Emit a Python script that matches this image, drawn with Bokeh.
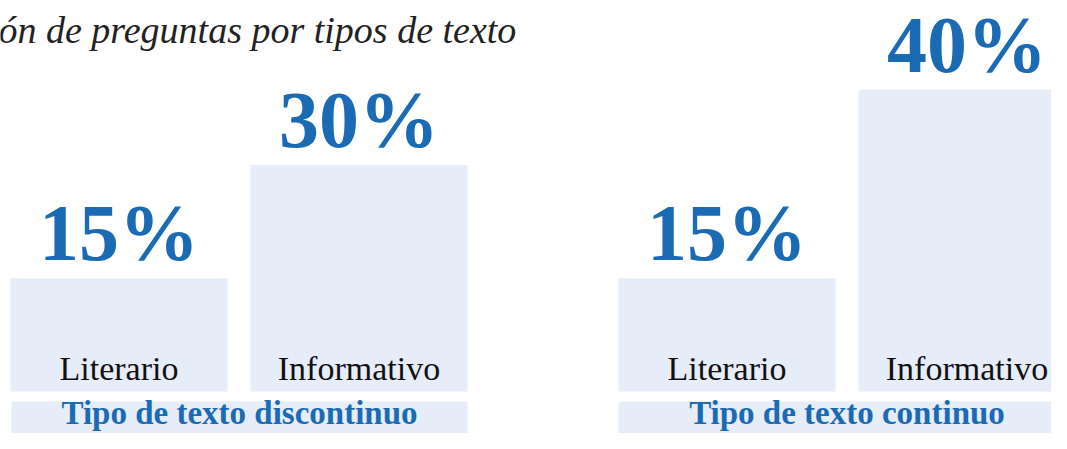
from bokeh.plotting import figure
from bokeh.models import Range1d, ColumnDataSource
from bokeh.core.properties import value
from bokeh.embed import file_html
from bokeh.resources import INLINE

# ---- data ----
groups = ["Tipo de texto discontinuo", "Tipo de texto continuo"]
categories = ["Literario", "Informativo"]
discontinuo_pct = [15, 30]
continuo_pct = [15, 40]
title_text = "ón de preguntas por tipos de texto"

# ---- layout constants (pixels horizontally, percent vertically) ----
W, H = 1051, 433
PX_PER_PCT = 7.55          # pixels per percentage point
BASE_Y = 391               # pixel row of bar bottoms (from top)
GROUP_X0 = [10, 618]
BAR_W = 217
BAR_GAP = 23
FONT = "Liberation Serif"
BLUE = "#1a6bb4"
BAR_FILL = "#e6ecf8"
MID = 0.3375               # baseline-to-middle distance, in em, for this font

def units(px):
    return px / PX_PER_PCT

def row(px_from_top):
    """percent-axis value of a pixel row counted from the top"""
    return units(BASE_Y - px_from_top)

y_bottom = units(BASE_Y - H)
y_top = units(BASE_Y)

p = figure(width=W, height=H, output_backend="svg", toolbar_location=None,
           x_range=Range1d(0, W), y_range=Range1d(y_bottom, y_top),
           min_border=0)
p.axis.visible = False
p.grid.visible = False
p.outline_line_color = None
p.background_fill_color = "white"
p.border_fill_color = "white"

series = [discontinuo_pct, continuo_pct]
xs, tops, labels, cats = [], [], [], []
for g, vals in enumerate(series):
    for i, v in enumerate(vals):
        xs.append(GROUP_X0[g] + i * (BAR_W + BAR_GAP) + BAR_W / 2)
        tops.append(v)
        labels.append(f"{v}%")
        cats.append(categories[i])

PCT_FS = 80
src = ColumnDataSource(dict(x=xs, top=tops, label=labels, cat=cats,
                            label_y=[t + units(18 + MID * PCT_FS) for t in tops]))

p.vbar(x="x", width=BAR_W, top="top", bottom=0, source=src,
       fill_color=BAR_FILL, line_color=None)

# percentage labels above bars
p.text(x="x", y="label_y", text="label", source=src,
       text_font=value(FONT), text_font_style="bold",
       text_font_size=f"{PCT_FS}px", text_color=BLUE,
       text_align="center", text_baseline="middle")

# category labels inside bars
CAT_FS = 34
src_cat = ColumnDataSource(dict(x=xs, y=[units(12 + MID * CAT_FS)] * len(xs), cat=cats))
p.text(x="x", y="y", text="cat", source=src_cat,
       text_font=value(FONT), text_font_size=f"{CAT_FS}px",
       text_color="#111111", text_align="center", text_baseline="middle")

# group label boxes
GRP_FS = 33
box_left = [GROUP_X0[0] + 1, GROUP_X0[1]]
box_right = [GROUP_X0[0] + 2 * BAR_W + BAR_GAP, GROUP_X0[1] + 2 * BAR_W + BAR_GAP]
box_src = ColumnDataSource(dict(
    left=box_left, right=box_right,
    top=[row(401)] * 2, bottom=[y_bottom - 2] * 2,
    cx=[(l + r) / 2 for l, r in zip(box_left, box_right)],
    ty=[row(424 - MID * GRP_FS)] * 2, name=groups))
p.quad(left="left", right="right", top="top", bottom="bottom", source=box_src,
       fill_color=BAR_FILL, line_color=None)
p.text(x="cx", y="ty", text="name", source=box_src,
       text_font=value(FONT), text_font_style="bold",
       text_font_size=f"{GRP_FS}px", text_color=BLUE,
       text_align="center", text_baseline="middle")

# title (cropped at the left edge as in the reference)
TTL_FS = 38
p.text(x=[-2], y=[row(42 - MID * TTL_FS)], text=[title_text],
       text_font=value(FONT), text_font_style="italic",
       text_font_size=f"{TTL_FS}px", text_color="#222222",
       text_align="left", text_baseline="middle")

open("out.html", "w").write(file_html(p, INLINE))
